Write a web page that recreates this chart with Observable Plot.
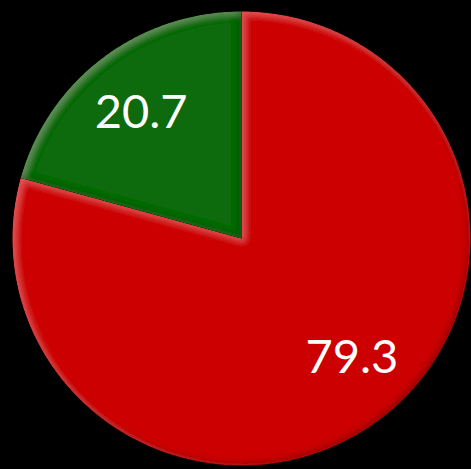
<!DOCTYPE html>
<html>
<head>
<meta charset="utf-8">
<script src="https://cdn.jsdelivr.net/npm/d3@7"></script>
<script src="https://cdn.jsdelivr.net/npm/@observablehq/plot@0.6"></script>
<style>
  html, body { margin: 0; padding: 0; background: #000; }
  #chart { width: 471px; height: 469px; }
</style>
</head>
<body>
<div id="chart"></div>
<script>
// Data
const categories = ["Share A", "Share B"];
const values = [79.3, 20.7];
const labels = ["79.3", "20.7"];
const colors = ["#cc0605", "#086a08"];

const data = categories.map((c, i) => ({category: c, value: values[i], label: labels[i]}));

// Pie layout (clockwise from 12 o'clock, first slice first)
const pie = d3.pie().sort(null).value(d => d.value)(data);

// Polygon outline of each slice in unit coordinates (y up)
const outline = [];
pie.forEach(p => {
  const cat = p.data.category;
  outline.push({category: cat, x: 0, y: 0});
  const n = Math.max(2, Math.ceil((p.endAngle - p.startAngle) / 0.01));
  for (let k = 0; k <= n; k++) {
    const a = p.startAngle + (p.endAngle - p.startAngle) * k / n;
    outline.push({category: cat, x: Math.sin(a), y: Math.cos(a)});
  }
  outline.push({category: cat, x: 0, y: 0});
});

// Label positions along each slice's mid angle
const labelR = 0.71;
const labelPts = pie.map(p => {
  const a = (p.startAngle + p.endAngle) / 2;
  return {label: p.data.label, x: labelR * Math.sin(a), y: labelR * Math.cos(a)};
});

const cx = 241, cy = 238, rx = 229, ry = 227;
const font = "Lato, 'Open Sans', sans-serif";

const plot = Plot.plot({
  width: 471,
  height: 469,
  margin: 0,
  style: {background: "#000", overflow: "visible"},
  x: {domain: [-1, 1], range: [cx - rx, cx + rx], axis: null},
  y: {domain: [-1, 1], range: [cy + ry, cy - ry], axis: null},
  color: {type: "ordinal", domain: categories, range: colors},
  marks: [
    Plot.line(outline, {x: "x", y: "y", z: "category", fill: "category", stroke: null, curve: "linear", className: "slices"}),
    Plot.text(labelPts.filter(d => d.label === labels[0]), {x: "x", y: "y", text: "label", fill: "#fff", fontSize: 47, fontFamily: font, textAnchor: "middle", dx: 12, dy: -9}),
    Plot.text(labelPts.filter(d => d.label === labels[1]), {x: "x", y: "y", text: "label", fill: "#fff", fontSize: 47, fontFamily: font, textAnchor: "middle", dx: -2, dy: 3})
  ]
});

// Bevel filter (light from top-left)
const svg = d3.select(plot);
const defs = svg.insert("defs", ":first-child");
const f = defs.append("filter").attr("id", "bevel").attr("x", "-5%").attr("y", "-5%").attr("width", "110%").attr("height", "110%");
f.append("feGaussianBlur").attr("in", "SourceAlpha").attr("stdDeviation", 3).attr("result", "blur");
f.append("feOffset").attr("in", "blur").attr("dx", 3).attr("dy", 3).attr("result", "offHL");
f.append("feComposite").attr("in", "SourceAlpha").attr("in2", "offHL").attr("operator", "arithmetic").attr("k2", 1).attr("k3", -1).attr("result", "hlMask");
const ct = f.append("feComponentTransfer").attr("in", "SourceGraphic").attr("result", "bright");
ct.append("feFuncR").attr("type", "linear").attr("slope", 1.15).attr("intercept", 0.12);
ct.append("feFuncG").attr("type", "linear").attr("slope", 1.35).attr("intercept", 0.1);
ct.append("feFuncB").attr("type", "linear").attr("slope", 1.35).attr("intercept", 0.1);
f.append("feComposite").attr("in", "bright").attr("in2", "hlMask").attr("operator", "in").attr("result", "hl");
f.append("feOffset").attr("in", "blur").attr("dx", -3).attr("dy", -3).attr("result", "offSh");
f.append("feComposite").attr("in", "SourceAlpha").attr("in2", "offSh").attr("operator", "arithmetic").attr("k2", 1).attr("k3", -1).attr("result", "shMask");
f.append("feFlood").attr("flood-color", "#000").attr("flood-opacity", 0.45).attr("result", "shColor");
f.append("feComposite").attr("in", "shColor").attr("in2", "shMask").attr("operator", "in").attr("result", "sh");
const m = f.append("feMerge");
m.append("feMergeNode").attr("in", "SourceGraphic");
m.append("feMergeNode").attr("in", "hl");
m.append("feMergeNode").attr("in", "sh");

svg.selectAll(".slices path").attr("filter", "url(#bevel)");

document.getElementById("chart").appendChild(plot);
</script>
</body>
</html>
